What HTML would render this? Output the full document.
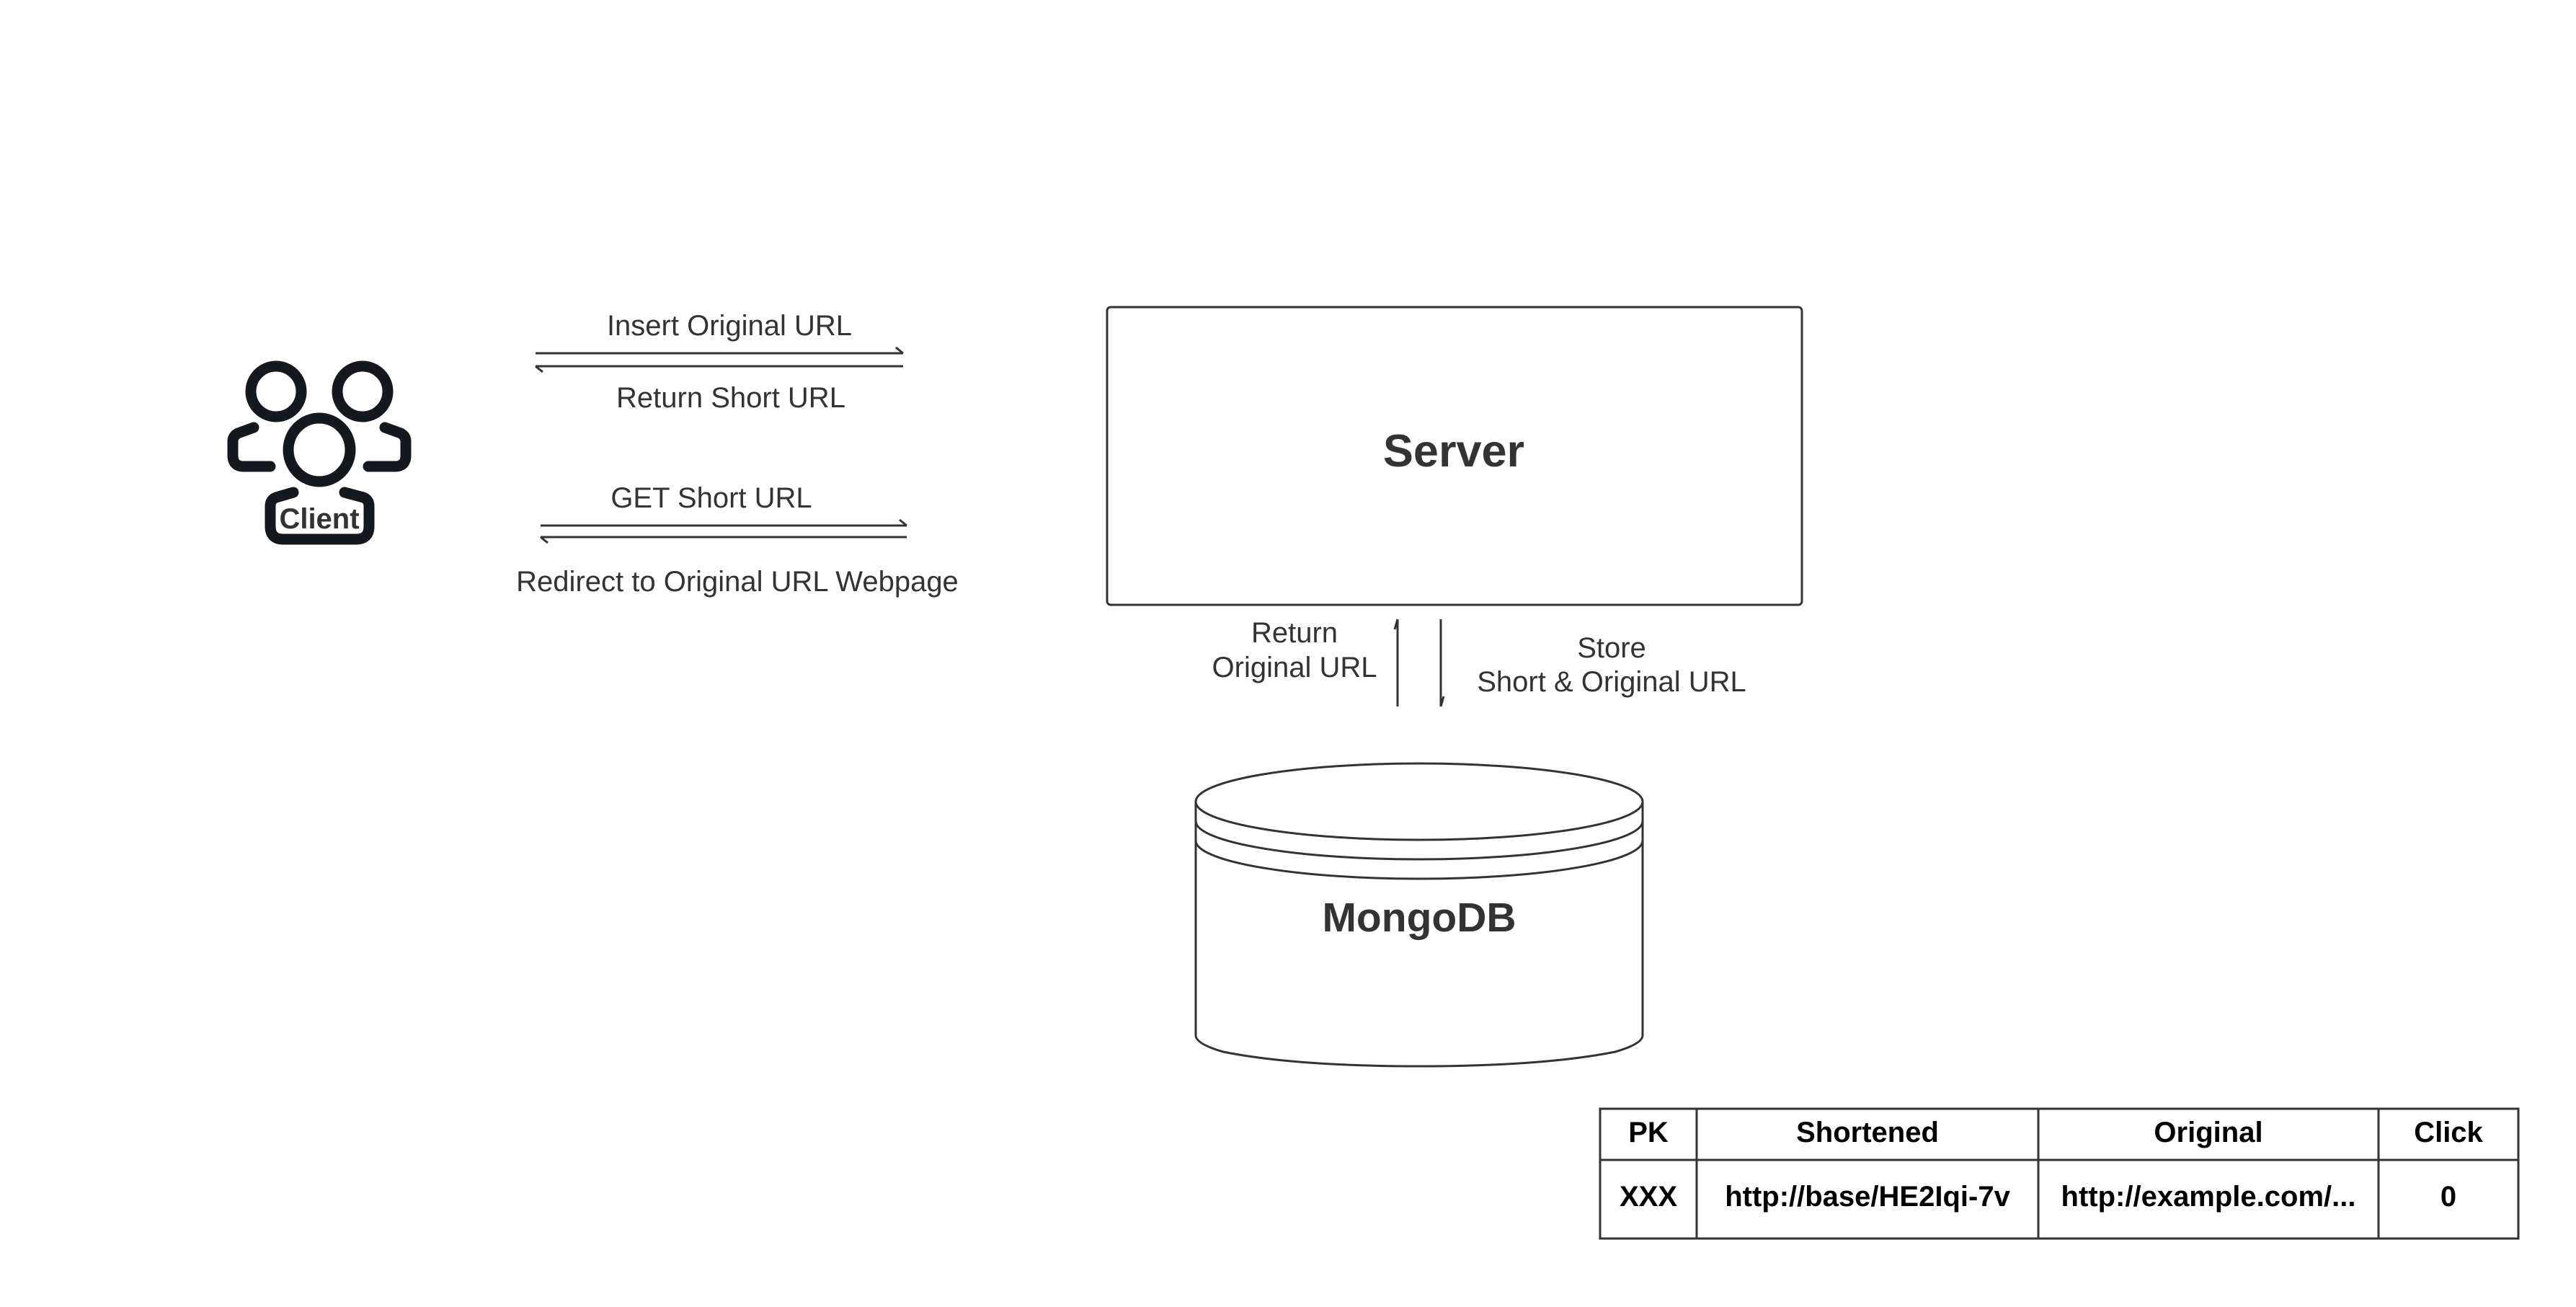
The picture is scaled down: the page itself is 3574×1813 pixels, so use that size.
<!DOCTYPE html>
<html><head><meta charset="utf-8"><style>
html,body{margin:0;padding:0;background:#fff;}
svg{display:block;}
</style></head><body>
<svg width="3574" height="1813" viewBox="0 0 3574 1813" xmlns="http://www.w3.org/2000/svg" font-family="Liberation Sans, Arial, sans-serif">
<rect width="3574" height="1813" fill="#fff"/>
<!-- Client icon -->
<g fill="none" stroke="#14191f" stroke-width="15" stroke-linecap="round" stroke-linejoin="round">
<circle cx="383" cy="543" r="35"/>
<circle cx="503" cy="543" r="35"/>
<ellipse cx="443" cy="624" rx="43" ry="44"/>
<path d="M352 593 L330 601 Q323 605 323 612 L323 632 Q323 647 338 647 L375 647"/>
<path d="M534 593 L556 601 Q563 605 563 612 L563 632 Q563 647 548 647 L511 647"/>
<path d="M407 683 L383 690 Q375 693 375 702 L375 730 Q375 748 393 748 L494 748 Q512 748 512 730 L512 702 Q512 693 504 690 L478 683"/>
</g>
<rect x="384" y="700" width="118" height="37" fill="#fff"/>
<text x="443" y="733" font-size="40" font-weight="bold" fill="#333" text-anchor="middle">Client</text>

<g stroke="#333" stroke-width="3" fill="none">
<line x1="743" y1="490" x2="1253" y2="490"/><polyline points="1243,482 1253,490"/>
<line x1="743" y1="508" x2="1253" y2="508"/><polyline points="753,516 743,508"/>
<line x1="750" y1="729" x2="1258" y2="729"/><polyline points="1248,721 1258,729"/>
<line x1="750" y1="745" x2="1258" y2="745"/><polyline points="760,753 750,745"/>
<line x1="1939" y1="859" x2="1939" y2="980"/><polyline points="1935,873 1939,859"/>
<line x1="1999" y1="859" x2="1999" y2="980"/><polyline points="2003,966 1999,980"/>
<rect x="1536" y="426" width="964" height="413" rx="5"/>
<ellipse cx="1969" cy="1112" rx="310" ry="53"/>
<path d="M1659 1112 L1659 1436 Q1659 1448 1697 1459 Q1797 1479 1969 1479 Q2141 1479 2241 1459 Q2279 1448 2279 1436 L2279 1112"/>
<path d="M1659 1139 A310 53 0 0 0 2279 1139"/>
<path d="M1659 1166 A310 53 0 0 0 2279 1166"/>
<rect x="2220" y="1538" width="1274" height="180"/>
<line x1="2220" y1="1609" x2="3494" y2="1609"/>
<line x1="2354" y1="1538" x2="2354" y2="1718"/>
<line x1="2828" y1="1538" x2="2828" y2="1718"/>
<line x1="3300" y1="1538" x2="3300" y2="1718"/>
</g>

<g fill="#333" font-size="40" text-anchor="middle">
<text x="1012" y="465">Insert Original URL</text>
<text x="1014" y="565">Return Short URL</text>
<text x="987" y="704">GET Short URL</text>
<text x="1023" y="820">Redirect to Original URL Webpage</text>
<text x="1796" y="891">Return</text>
<text x="1796" y="939">Original URL</text>
<text x="2236" y="912">Store</text>
<text x="2236" y="959">Short &amp; Original URL</text>
</g>
<text x="2017" y="647" font-size="63" font-weight="bold" fill="#333" text-anchor="middle">Server</text>
<text x="1969" y="1292" font-size="57" font-weight="bold" fill="#333" text-anchor="middle">MongoDB</text>

<g fill="#000" font-size="40" font-weight="bold" text-anchor="middle">
<text x="2287" y="1584">PK</text>
<text x="2591" y="1584">Shortened</text>
<text x="3064" y="1584">Original</text>
<text x="3397" y="1584">Click</text>
<text x="2287" y="1673">XXX</text>
<text x="2591" y="1673">http://base/HE2Iqi-7v</text>
<text x="3064" y="1673">http://example.com/...</text>
<text x="3397" y="1673">0</text>
</g>
</svg>
</body></html>
